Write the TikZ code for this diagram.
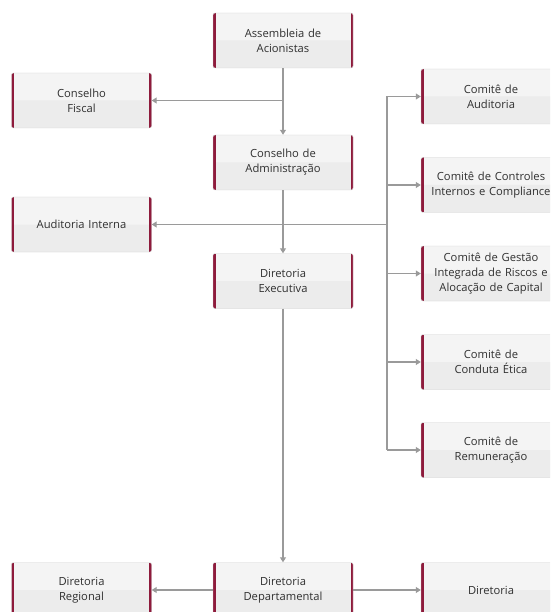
\documentclass[tikz,border=0pt]{standalone}
\usepackage{fontspec}
\setmainfont{Open Sans}
\usetikzlibrary{arrows.meta}
\definecolor{boxred}{HTML}{8E1B3C}
\definecolor{boxtop}{HTML}{F4F4F4}
\definecolor{boxbot}{HTML}{ECECEC}
\definecolor{linegray}{HTML}{9A9A9A}
\definecolor{txtgray}{HTML}{303030}
\tikzset{
  orgbox/.style={draw=gray!35, fill=boxtop, rounded corners=2pt,
    minimum width=140pt, minimum height=55pt, inner xsep=1pt,
    text width=136pt, align=center, text=txtgray,
    font=\fontsize{11.2}{15}\selectfont,
    path picture={
      \fill[boxbot] (path picture bounding box.west) rectangle
        (path picture bounding box.south east);
      \draw[boxred, line width=5pt]
        (path picture bounding box.north west) --
        (path picture bounding box.south west);
      \draw[boxred, line width=5pt]
        (path picture bounding box.north east) --
        (path picture bounding box.south east);
    }},
  conn/.style={draw=linegray, line width=1.1pt,
    -{Triangle[width=6pt,length=5pt]}},
  bus/.style={draw=linegray, line width=1.1pt}
}
\begin{document}
\begin{tikzpicture}[x=1pt,y=-1pt]
\useasboundingbox (0,0) rectangle (550,612);
\clip (0,0) rectangle (550,612);

% central column
\node[orgbox] (assembleia) at (283,40.5) {Assembleia de\\Acionistas};
\node[orgbox] (conselho) at (283,162.5) {Conselho de\\Administração};
\node[orgbox] (executiva) at (283,281) {Diretoria\\Executiva};

% left column
\node[orgbox] (fiscal) at (81.5,100.5) {Conselho\\Fiscal};
\node[orgbox] (auditoria) at (81.5,224.5) {Auditoria Interna};

% committees
\node[orgbox] (comAud) at (491,96.5) {Comitê de\\Auditoria};
\node[orgbox] (comCtrl) at (491,185) {Comitê de Controles\\Internos e Compliance};
\node[orgbox] (comRisco) at (491,273.5)
 {Comitê de Gestão\\Integrada de Riscos e\\Alocação de Capital};
\node[orgbox] (comEtica) at (491,362) {Comitê de\\Conduta Ética};
\node[orgbox] (comRem) at (491,450) {Comitê de\\Remuneração};

% bottom row
\node[orgbox] (regional) at (81.5,590) {Diretoria\\Regional};
\node[orgbox] (departamental) at (283,590) {Diretoria\\Departamental};
\node[orgbox] (diretoria) at (491,590) {Diretoria};

\coordinate (busx) at (387,0);

\draw[conn] (assembleia) -- (conselho);
\draw[conn] (fiscal.east -| assembleia.south) -- (fiscal.east);
\draw[conn] (conselho) -- (executiva);
\draw[conn] (auditoria.east -| busx) -- (auditoria.east);
\draw[bus] (busx |- comAud.west) -- (busx |- comRem.west);
\foreach \c in {comAud,comCtrl,comRisco,comEtica,comRem}
  \draw[conn] (busx |- \c.west) -- (\c.west);
\draw[conn] (executiva) -- (departamental);
\draw[conn] (departamental) -- (regional);
\draw[conn] (departamental) -- (diretoria);
\end{tikzpicture}
\end{document}
